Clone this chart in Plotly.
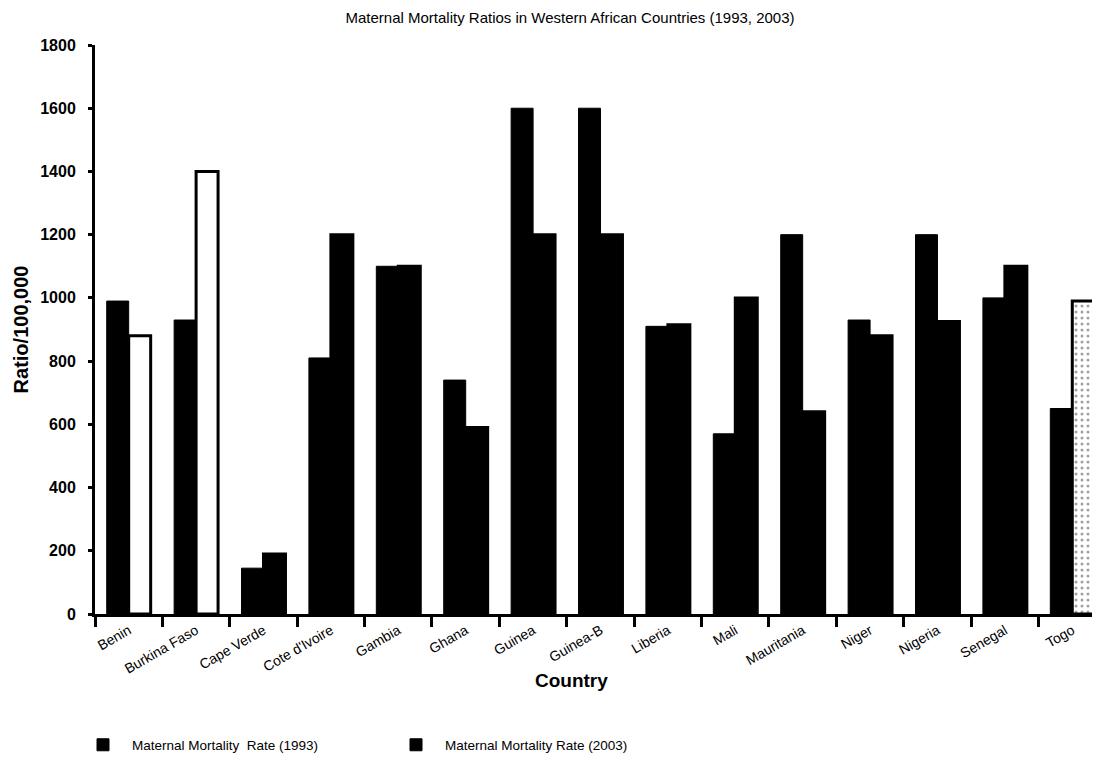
import plotly.graph_objects as go

countries = ["Benin", "Burkina Faso", "Cape Verde", "Cote d'Ivoire", "Gambia",
             "Ghana", "Guinea", "Guinea-B", "Liberia", "Mali", "Mauritania",
             "Niger", "Nigeria", "Senegal", "Togo"]
mmr_1993 = [990, 930, 145, 810, 1100, 740, 1600, 1600, 910, 570, 1200, 930, 1200, 1000, 650]
mmr_2003 = [880, 1400, 190, 1200, 1100, 590, 1200, 1200, 915, 1000, 640, 880, 925, 1100, 990]
y_ticks = [0, 200, 400, 600, 800, 1000, 1200, 1400, 1600, 1800]

name_1993 = "Maternal Mortality  Rate (1993)"
name_2003 = "Maternal Mortality Rate (2003)"

# styles (scanned black & white chart)
fill_2003 = ["white", "white"] + ["black"] * 12 + ["white"]
pattern_2003 = [""] * 14 + ["."]

FONT = "Liberation Sans, Arial, Helvetica, sans-serif"
BAR_W = 0.326

fig = go.Figure()
fig.add_trace(go.Bar(
    x=countries, y=mmr_1993, name=name_1993,
    offset=-BAR_W, width=BAR_W,
    marker=dict(color="black", line=dict(color="black", width=1)),
    showlegend=True,
))
fig.add_trace(go.Bar(
    x=countries, y=mmr_2003, name=name_2003,
    offset=0, width=BAR_W,
    marker=dict(color=fill_2003, line=dict(color="black", width=3),
                pattern=dict(shape=pattern_2003, fgcolor="#222", bgcolor="white",
                             size=6, solidity=0.2)),
    showlegend=False,
))
# legend swatch for the 2003 series (dark square as in the original)
fig.add_trace(go.Bar(
    x=[None], y=[None], name=name_2003,
    marker=dict(color="black", line=dict(color="black", width=1)),
    showlegend=True,
))

fig.update_layout(
    width=1100, height=766,
    paper_bgcolor="white", plot_bgcolor="white",
    barmode="overlay",
    margin=dict(l=87, r=0, t=37, b=160),
    font=dict(family=FONT, color="black"),
    title=dict(text="Maternal Mortality Ratios in Western African Countries (1993, 2003)",
               font=dict(size=15, color="black"),
               x=562 / 1100, xref="container", xanchor="center",
               y=1 - 10 / 766, yref="container", yanchor="middle"),
    legend=dict(orientation="h", xref="container", yref="container",
                x=66 / 1100, xanchor="left", y=1 - 737 / 766, yanchor="middle",
                font=dict(size=13.5, color="black"),
                itemwidth=48,
                entrywidth=250, entrywidthmode="pixels",
                traceorder="normal"),
    annotations=[dict(text="<b>Country</b>", xref="paper", yref="paper",
                      x=(563 - 87) / 1013, y=(606 - 672) / 569,
                      xanchor="center", yanchor="middle", showarrow=False,
                      font=dict(size=19, color="black"))],
)

fig.update_xaxes(
    type="category", range=[-0.5, 14.53],
    tickson="boundaries", ticks="outside", ticklen=10, tickwidth=2.5, tickcolor="black",
    showline=True, linecolor="black", linewidth=3, showgrid=False, zeroline=False,
    tickangle=-30, tickfont=dict(size=14, color="black"),
)
fig.update_yaxes(
    range=[0, 1800], tickvals=y_ticks,
    ticks="outside", ticklen=4, tickwidth=3, tickcolor="black",
    showline=True, linecolor="black", linewidth=3, showgrid=False, zeroline=False,
    tickfont=dict(size=16, color="black", weight="bold"), ticklabelstandoff=9,
    title=dict(text="Ratio/100,000", font=dict(size=20, color="black", weight="bold"), standoff=7),
)

fig.write_html("out.html")
